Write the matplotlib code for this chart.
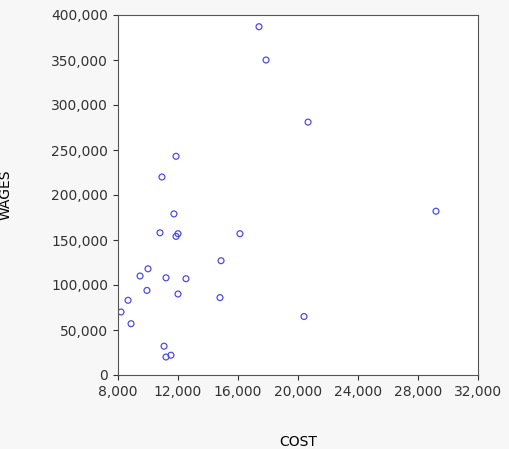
import matplotlib
matplotlib.use("Agg")
import matplotlib.pyplot as plt
from matplotlib.ticker import FuncFormatter

cost = [17400, 17870, 20670, 29200, 11870, 10930, 11730, 10800, 11870, 12000, 16130,
        10000, 9470, 11200, 12530, 14870, 9930, 12000, 8670, 14800, 8200, 20400, 8870,
        11070, 11200, 11530]
wages = [387000, 350000, 281000, 182000, 243000, 220000, 179000, 158000, 154000, 157000, 157000,
         118000, 110000, 108000, 107000, 127000, 94000, 90000, 83000, 86000, 70000, 65000, 57000,
         32000, 20000, 22000]

fig = plt.figure(figsize=(5.10, 4.49), dpi=100)
fig.patch.set_facecolor("#f7f7f7")
ax = fig.add_axes([118/510, 1-375/449, 360/510, 360/449])
ax.scatter(cost, wages, s=18, facecolors="none", edgecolors="#4a4aff", linewidths=0.9)
ax.set_xlim(8000, 32000)
ax.set_ylim(0, 400000)
ax.set_xticks(range(8000, 32001, 4000))
ax.set_yticks(range(0, 400001, 50000))
fmt = FuncFormatter(lambda v, p: f"{int(v):,}")
ax.xaxis.set_major_formatter(fmt)
ax.yaxis.set_major_formatter(fmt)
ax.tick_params(labelsize=10, colors="#333333")
ax.set_xlabel("COST", fontsize=10, labelpad=26)
ax.set_ylabel("WAGES", fontsize=10, labelpad=28)
for s in ax.spines.values():
    s.set_color("#555555")
fig.savefig("out.png", dpi=100, facecolor=fig.get_facecolor())
